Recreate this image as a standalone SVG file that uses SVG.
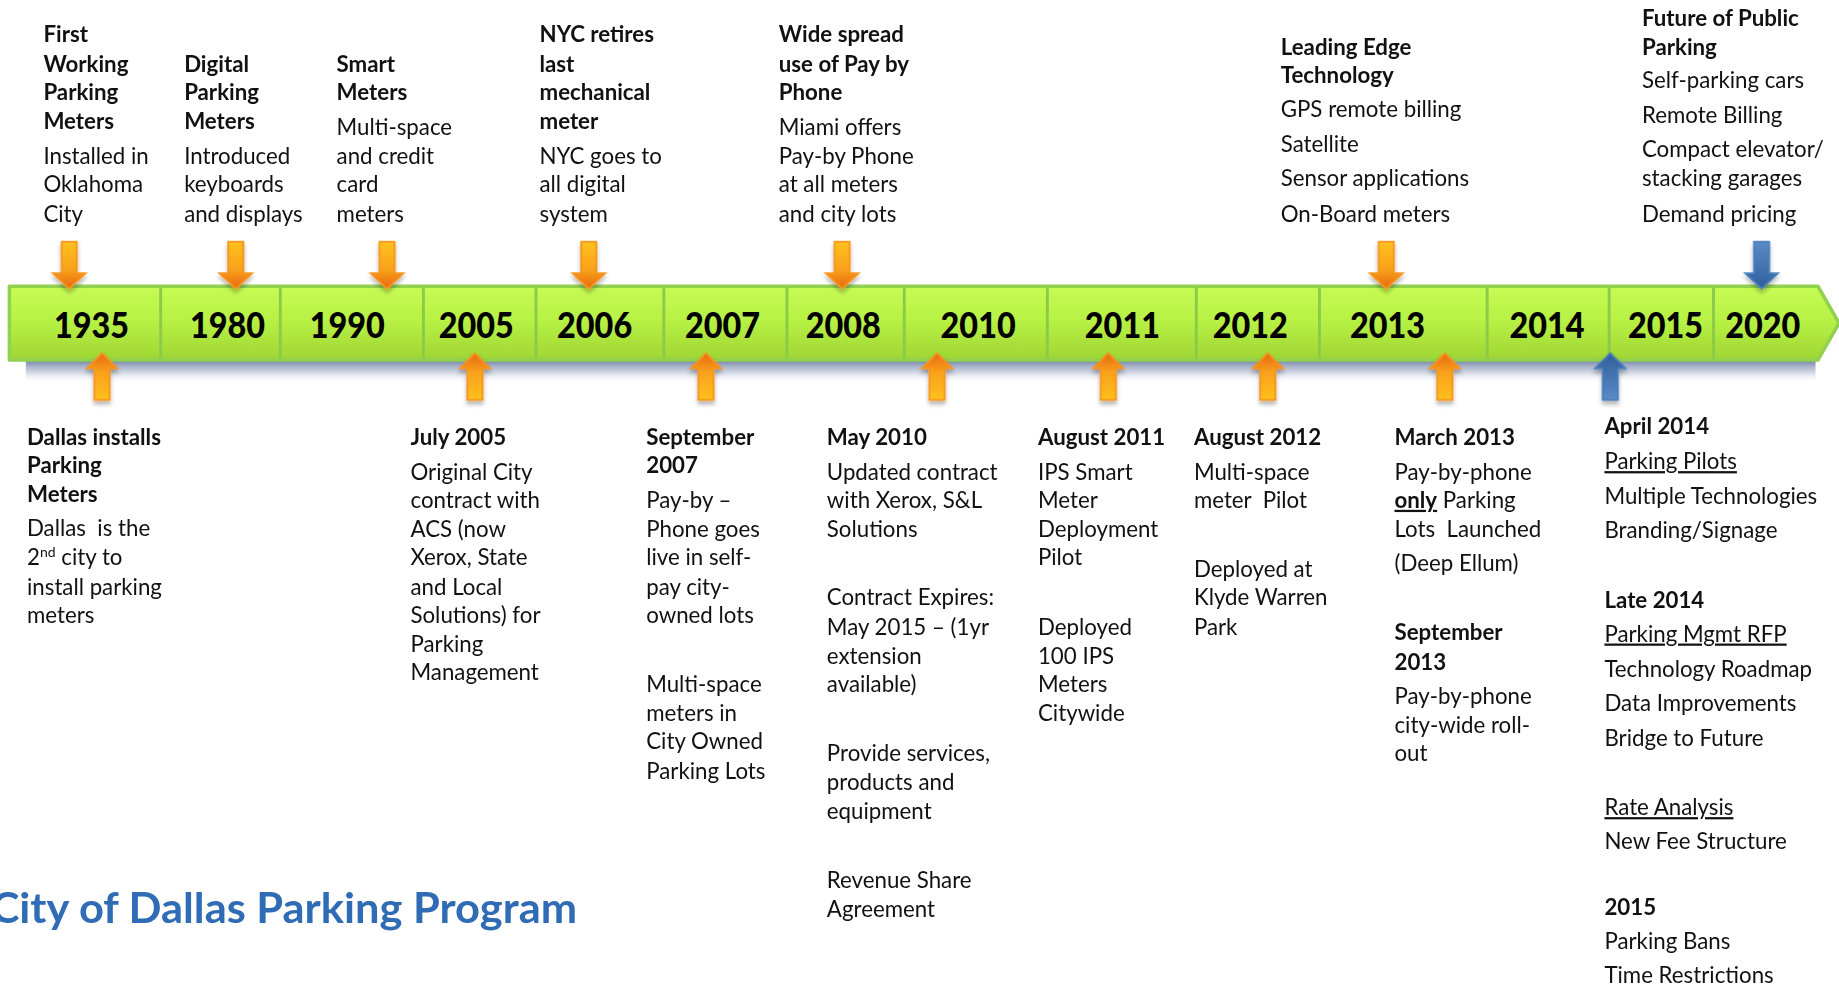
<svg xmlns="http://www.w3.org/2000/svg" xmlns:xlink="http://www.w3.org/1999/xlink" width="1839" height="985" viewBox="0 0 1839 985">
<defs>
<style>
.t{font-family:Lato,"Liberation Sans",sans-serif;font-size:19px;fill:#111}
.b{font-weight:bold}
.u{text-decoration:underline}
.y{font-family:Lato,"Liberation Sans",sans-serif;font-weight:900;font-size:31px;fill:#000;text-anchor:middle}
.div{stroke:#8ccb48;stroke-width:2.5}
.ttl{font-family:Lato,"Liberation Sans",sans-serif;font-weight:bold;font-size:36px;fill:#2f6cb5}
</style>
<linearGradient id="barG" x1="0" y1="0" x2="0" y2="1">
<stop offset="0" stop-color="#c6fc55"/>
<stop offset="0.45" stop-color="#b8f245"/>
<stop offset="1" stop-color="#9fd533"/>
</linearGradient>
<linearGradient id="shG" x1="0" y1="0" x2="0" y2="1">
<stop offset="0" stop-color="#6a7ba0" stop-opacity="0.95"/>
<stop offset="0.5" stop-color="#a9b4cb" stop-opacity="0.6"/>
<stop offset="1" stop-color="#ffffff" stop-opacity="0"/>
</linearGradient>
<linearGradient id="oDown" x1="0" y1="0" x2="0" y2="1">
<stop offset="0" stop-color="#ffc21c"/>
<stop offset="0.6" stop-color="#f9a11b"/>
<stop offset="1" stop-color="#e8680e"/>
</linearGradient>
<linearGradient id="oUp" x1="0" y1="0" x2="0" y2="1">
<stop offset="0" stop-color="#e8680e"/>
<stop offset="0.4" stop-color="#f9a11b"/>
<stop offset="1" stop-color="#ffc21c"/>
</linearGradient>
<linearGradient id="bDown" x1="0" y1="0" x2="0" y2="1">
<stop offset="0" stop-color="#5b8cc8"/>
<stop offset="1" stop-color="#2f5f9c"/>
</linearGradient>
<linearGradient id="bUp" x1="0" y1="0" x2="0" y2="1">
<stop offset="0" stop-color="#2f5f9c"/>
<stop offset="1" stop-color="#5b8cc8"/>
</linearGradient>
<filter id="sh" x="-50%" y="-50%" width="200%" height="200%">
<feDropShadow dx="0" dy="3" stdDeviation="2" flood-color="#000" flood-opacity="0.3"/>
</filter>
<path id="dA" d="M-6.5,0 H6.5 V27 H14 L0,40 L-14,27 H-6.5 Z"/>
<path id="uA" d="M0,0 L13,13 H6.5 V40 H-6.5 V13 H-13 Z"/>
</defs>
<rect x="0" y="0" width="1839" height="985" fill="#ffffff"/>
<g transform="scale(1.17283)">

<g id="timeline-bar">
<rect x="22" y="307" width="1526" height="20" fill="url(#shG)"/>
<path d="M8,244 H1550 L1568,275.5 L1550,307 H8 Z" fill="url(#barG)" stroke="#92d050" stroke-width="3" stroke-linejoin="round"/>
<g class="div">
<line x1="137" y1="245" x2="137" y2="306"/>
<line x1="239" y1="245" x2="239" y2="306"/>
<line x1="361" y1="245" x2="361" y2="306"/>
<line x1="457" y1="245" x2="457" y2="306"/>
<line x1="566" y1="245" x2="566" y2="306"/>
<line x1="671" y1="245" x2="671" y2="306"/>
<line x1="771" y1="245" x2="771" y2="306"/>
<line x1="893" y1="245" x2="893" y2="306"/>
<line x1="1020" y1="245" x2="1020" y2="306"/>
<line x1="1125" y1="245" x2="1125" y2="306"/>
<line x1="1268" y1="245" x2="1268" y2="306"/>
<line x1="1372" y1="245" x2="1372" y2="306"/>
<line x1="1461" y1="245" x2="1461" y2="306"/>
</g>
<text class="y" x="78" y="288" textLength="64" lengthAdjust="spacingAndGlyphs">1935</text>
<text class="y" x="194" y="288" textLength="64" lengthAdjust="spacingAndGlyphs">1980</text>
<text class="y" x="296" y="288" textLength="64" lengthAdjust="spacingAndGlyphs">1990</text>
<text class="y" x="406" y="288" textLength="64" lengthAdjust="spacingAndGlyphs">2005</text>
<text class="y" x="507" y="288" textLength="64" lengthAdjust="spacingAndGlyphs">2006</text>
<text class="y" x="616" y="288" textLength="64" lengthAdjust="spacingAndGlyphs">2007</text>
<text class="y" x="719" y="288" textLength="64" lengthAdjust="spacingAndGlyphs">2008</text>
<text class="y" x="834" y="288" textLength="64" lengthAdjust="spacingAndGlyphs">2010</text>
<text class="y" x="957" y="288" textLength="64" lengthAdjust="spacingAndGlyphs">2011</text>
<text class="y" x="1066" y="288" textLength="64" lengthAdjust="spacingAndGlyphs">2012</text>
<text class="y" x="1183" y="288" textLength="64" lengthAdjust="spacingAndGlyphs">2013</text>
<text class="y" x="1319" y="288" textLength="64" lengthAdjust="spacingAndGlyphs">2014</text>
<text class="y" x="1420" y="288" textLength="64" lengthAdjust="spacingAndGlyphs">2015</text>
<text class="y" x="1503" y="288" textLength="64" lengthAdjust="spacingAndGlyphs">2020</text>
</g>

<g id="connectors" filter="url(#sh)">
<g fill="url(#oDown)" stroke="#f7931e" stroke-width="1.5">
<use xlink:href="#dA" x="59" y="206"/>
<use xlink:href="#dA" x="201" y="206"/>
<use xlink:href="#dA" x="330" y="206"/>
<use xlink:href="#dA" x="502" y="206"/>
<use xlink:href="#dA" x="718" y="206"/>
<use xlink:href="#dA" x="1182" y="206"/>
</g>
<g fill="url(#bDown)" stroke="#4a7ebb" stroke-width="1.5">
<use xlink:href="#dA" x="1502" y="206"/>
</g>
<g fill="url(#oUp)" stroke="#f7931e" stroke-width="1.5">
<use xlink:href="#uA" x="87" y="301"/>
<use xlink:href="#uA" x="405" y="301"/>
<use xlink:href="#uA" x="602" y="301"/>
<use xlink:href="#uA" x="799" y="301"/>
<use xlink:href="#uA" x="945" y="301"/>
<use xlink:href="#uA" x="1081" y="301"/>
<use xlink:href="#uA" x="1232" y="301"/>
</g>
<g fill="url(#bUp)" stroke="#4a7ebb" stroke-width="1.5">
<use xlink:href="#uA" x="1373" y="301"/>
</g>
</g>

<g id="n1935-top">
<text class="t b"><tspan x="37" y="36">First</tspan><tspan x="37" y="61">Working</tspan><tspan x="37" y="85">Parking</tspan><tspan x="37" y="110">Meters</tspan></text>
<text class="t"><tspan x="37" y="140">Installed in</tspan><tspan x="37" y="164">Oklahoma</tspan><tspan x="37" y="189">City</tspan></text>
</g>
<g id="n1980-top">
<text class="t b"><tspan x="157" y="61">Digital</tspan><tspan x="157" y="85">Parking</tspan><tspan x="157" y="110">Meters</tspan></text>
<text class="t"><tspan x="157" y="140">Introduced</tspan><tspan x="157" y="164">keyboards</tspan><tspan x="157" y="189">and displays</tspan></text>
</g>
<g id="n1990-top">
<text class="t b"><tspan x="287" y="61">Smart</tspan><tspan x="287" y="85">Meters</tspan></text>
<text class="t"><tspan x="287" y="115">Multi-space</tspan><tspan x="287" y="140">and credit</tspan><tspan x="287" y="164">card</tspan><tspan x="287" y="189">meters</tspan></text>
</g>
<g id="n2006-top">
<text class="t b"><tspan x="460" y="36">NYC retires</tspan><tspan x="460" y="61">last</tspan><tspan x="460" y="85">mechanical</tspan><tspan x="460" y="110">meter</tspan></text>
<text class="t"><tspan x="460" y="140">NYC goes to</tspan><tspan x="460" y="164">all digital</tspan><tspan x="460" y="189">system</tspan></text>
</g>
<g id="n2008-top">
<text class="t b"><tspan x="664" y="36">Wide spread</tspan><tspan x="664" y="61">use of Pay by</tspan><tspan x="664" y="85">Phone</tspan></text>
<text class="t"><tspan x="664" y="115">Miami offers</tspan><tspan x="664" y="140">Pay-by Phone</tspan><tspan x="664" y="164">at all meters</tspan><tspan x="664" y="189">and city lots</tspan></text>
</g>
<g id="n2013-top">
<text class="t b"><tspan x="1092" y="47">Leading Edge</tspan><tspan x="1092" y="71">Technology</tspan></text>
<text class="t"><tspan x="1092" y="100">GPS remote billing</tspan><tspan x="1092" y="130">Satellite</tspan><tspan x="1092" y="159">Sensor applications</tspan><tspan x="1092" y="189">On-Board meters</tspan></text>
</g>
<g id="n2020-top">
<text class="t b"><tspan x="1400" y="22">Future of Public</tspan><tspan x="1400" y="47">Parking</tspan></text>
<text class="t"><tspan x="1400" y="75">Self-parking cars</tspan><tspan x="1400" y="105">Remote Billing</tspan><tspan x="1400" y="134">Compact elevator/</tspan><tspan x="1400" y="159">stacking garages</tspan><tspan x="1400" y="189">Demand pricing</tspan></text>
</g>

<g id="n1935-bottom">
<text class="t b"><tspan x="23" y="379">Dallas installs</tspan><tspan x="23" y="403">Parking</tspan><tspan x="23" y="428">Meters</tspan></text>
<text class="t"><tspan x="23" y="457" xml:space="preserve">Dallas  is the</tspan><tspan x="23" y="482">2</tspan><tspan font-size="12" dy="-7">nd</tspan><tspan dy="7"> city to</tspan><tspan x="23" y="507">install parking</tspan><tspan x="23" y="531">meters</tspan></text>
</g>
<g id="n2005-bottom">
<text class="t b"><tspan x="350" y="379">July 2005</tspan></text>
<text class="t"><tspan x="350" y="409">Original City</tspan><tspan x="350" y="433">contract with</tspan><tspan x="350" y="458">ACS (now</tspan><tspan x="350" y="482">Xerox, State</tspan><tspan x="350" y="507">and Local</tspan><tspan x="350" y="531">Solutions) for</tspan><tspan x="350" y="556">Parking</tspan><tspan x="350" y="580">Management</tspan></text>
</g>
<g id="n2007-bottom">
<text class="t b"><tspan x="551" y="379">September</tspan><tspan x="551" y="403">2007</tspan></text>
<text class="t"><tspan x="551" y="433">Pay-by –</tspan><tspan x="551" y="458">Phone goes</tspan><tspan x="551" y="482">live in self-</tspan><tspan x="551" y="507">pay city-</tspan><tspan x="551" y="531">owned lots</tspan><tspan x="551" y="590">Multi-space</tspan><tspan x="551" y="615">meters in</tspan><tspan x="551" y="639">City Owned</tspan><tspan x="551" y="664">Parking Lots</tspan></text>
</g>
<g id="n2010-bottom">
<text class="t b"><tspan x="705" y="379">May 2010</tspan></text>
<text class="t"><tspan x="705" y="409">Updated contract</tspan><tspan x="705" y="433">with Xerox, S&amp;L</tspan><tspan x="705" y="458">Solutions</tspan><tspan x="705" y="516">Contract Expires:</tspan><tspan x="705" y="541">May 2015 – (1yr</tspan><tspan x="705" y="566">extension</tspan><tspan x="705" y="590">available)</tspan><tspan x="705" y="649">Provide services,</tspan><tspan x="705" y="674">products and</tspan><tspan x="705" y="698">equipment</tspan><tspan x="705" y="757">Revenue Share</tspan><tspan x="705" y="782">Agreement</tspan></text>
</g>
<g id="n2011-bottom">
<text class="t b"><tspan x="885" y="379">August 2011</tspan></text>
<text class="t"><tspan x="885" y="409">IPS Smart</tspan><tspan x="885" y="433">Meter</tspan><tspan x="885" y="458">Deployment</tspan><tspan x="885" y="482">Pilot</tspan><tspan x="885" y="541">Deployed</tspan><tspan x="885" y="566">100 IPS</tspan><tspan x="885" y="590">Meters</tspan><tspan x="885" y="615">Citywide</tspan></text>
</g>
<g id="n2012-bottom">
<text class="t b"><tspan x="1018" y="379">August 2012</tspan></text>
<text class="t" xml:space="preserve"><tspan x="1018" y="409">Multi-space</tspan><tspan x="1018" y="433">meter  Pilot</tspan><tspan x="1018" y="492">Deployed at</tspan><tspan x="1018" y="516">Klyde Warren</tspan><tspan x="1018" y="541">Park</tspan></text>
</g>
<g id="n2013-bottom">
<text class="t b"><tspan x="1189" y="379">March 2013</tspan></text>
<text class="t" xml:space="preserve"><tspan x="1189" y="409">Pay-by-phone</tspan><tspan x="1189" y="433" class="b u">only</tspan><tspan> Parking</tspan><tspan x="1189" y="458">Lots  Launched</tspan><tspan x="1189" y="487">(Deep Ellum)</tspan></text>
<text class="t b"><tspan x="1189" y="546">September</tspan><tspan x="1189" y="571">2013</tspan></text>
<text class="t"><tspan x="1189" y="600">Pay-by-phone</tspan><tspan x="1189" y="625">city-wide roll-</tspan><tspan x="1189" y="649">out</tspan></text>
</g>
<g id="n2015-bottom">
<text class="t b"><tspan x="1368" y="370">April 2014</tspan></text>
<text class="t"><tspan x="1368" y="400" class="u">Parking Pilots</tspan><tspan x="1368" y="430">Multiple Technologies</tspan><tspan x="1368" y="459">Branding/Signage</tspan></text>
<text class="t b"><tspan x="1368" y="518">Late 2014</tspan></text>
<text class="t"><tspan x="1368" y="547" class="u">Parking Mgmt RFP</tspan><tspan x="1368" y="577">Technology Roadmap</tspan><tspan x="1368" y="606">Data Improvements</tspan><tspan x="1368" y="636">Bridge to Future</tspan><tspan x="1368" y="695" class="u">Rate Analysis</tspan><tspan x="1368" y="724">New Fee Structure</tspan></text>
<text class="t b"><tspan x="1368" y="780">2015</tspan></text>
<text class="t"><tspan x="1368" y="809">Parking Bans</tspan><tspan x="1368" y="838">Time Restrictions</tspan></text>
</g>

<g id="title">
<text class="ttl" x="-8" y="787" textLength="500" lengthAdjust="spacingAndGlyphs">City of Dallas Parking Program</text>
</g>
</g>
</svg>
